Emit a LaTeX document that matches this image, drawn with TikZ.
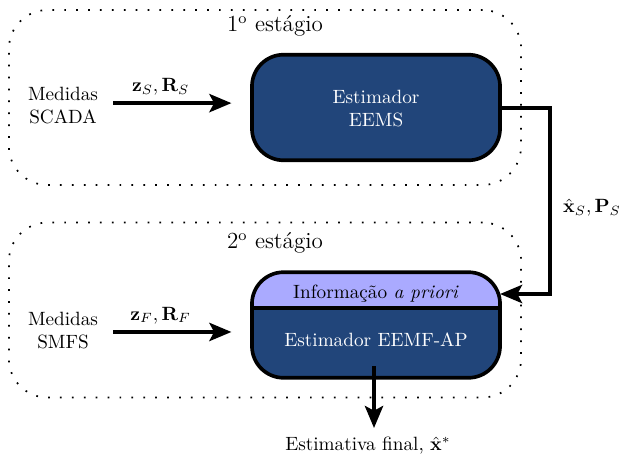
\documentclass[tikz,border=0pt]{standalone}
\usetikzlibrary{arrows.meta}
\definecolor{navy}{HTML}{21457A}
\definecolor{lav}{HTML}{AAAAFF}
\begin{document}
\begin{tikzpicture}[x=0.5208pt,y=-0.5208pt,
  stage/.style={draw, line width=0.9pt, dash pattern=on 0.9pt off 5.3pt,
    rounded corners=20pt, minimum width=266.7pt, minimum height=91.1pt},
  estbox/.style={draw, line width=1.9pt, rounded corners=16.5pt, fill=navy,
    minimum width=129.2pt, minimum height=55pt, outer sep=0pt},
  link/.style={line width=1.9pt, -{Stealth[length=11.5pt,width=9.5pt,inset=2.5pt]}},
  lbl/.style={align=center},
  inner/.style={text=white, align=center}
]
\useasboundingbox (0,0) rectangle (624,454);

% dotted frames for the two stages
\node[stage] (s1) at (265,97.5) {};
\node[stage] (s2) at (265,310) {};
\node[font=\large] (t1) at (275,26) {1\textsuperscript{o} estágio};
\node[font=\large] (t2) at (275,243) {2\textsuperscript{o} estágio};

% first-stage estimator
\node[estbox] (est1) at (376,107.5) {};
\node[inner] (e1txt) at (376,109) {Estimador\\EEMS};

% second-stage estimator with a-priori band on top
\node[estbox, draw=none] (est2) at (376,325) {};
\begin{scope}
  \clip[rounded corners=16.5pt] (est2.south west) rectangle (est2.north east);
  \fill[lav] (est2.north west) rectangle (est2.east |- 0,308);
\end{scope}
\draw[line width=1.9pt, rounded corners=16.5pt] (est2.south west) rectangle (est2.north east);
\draw[line width=1.9pt] (est2.west |- 0,308) -- (est2.east |- 0,308);
\node (info) at (376,294) {Informação \textit{a priori}};
\node[inner] (e2txt) at (376,340) {Estimador EEMF-AP};

% measurement inputs
\node[lbl] (m1) at (63,106) {Medidas\\SCADA};
\node[lbl] (m2) at (63,331) {Medidas\\SMFS};
\draw[link] ([xshift=4.5pt,yshift=1.5pt]m1.east) -- node[above, pos=0.4] {$\mathbf{z}_S,\mathbf{R}_S$} ++(118,0);
\draw[link] ([xshift=4.5pt,yshift=-0.5pt]m2.east) -- node[above, pos=0.4] {$\mathbf{z}_F,\mathbf{R}_F$} ++(118,0);

% hand-over from stage 1 to stage 2
\coordinate (turn) at (550,108);
\draw[link] (est1.east |- turn) -- (turn) |- (est2.east |- info);
\node (xs) at (592,208) {$\hat{\mathbf{x}}_S,\mathbf{P}_S$};

% final output
\node (out) at (368,446) {Estimativa final, $\hat{\mathbf{x}}^{*}$};
\draw[link] ([yshift=6pt]est2.south -| 374,0) -- (374,428);
\end{tikzpicture}
\end{document}
